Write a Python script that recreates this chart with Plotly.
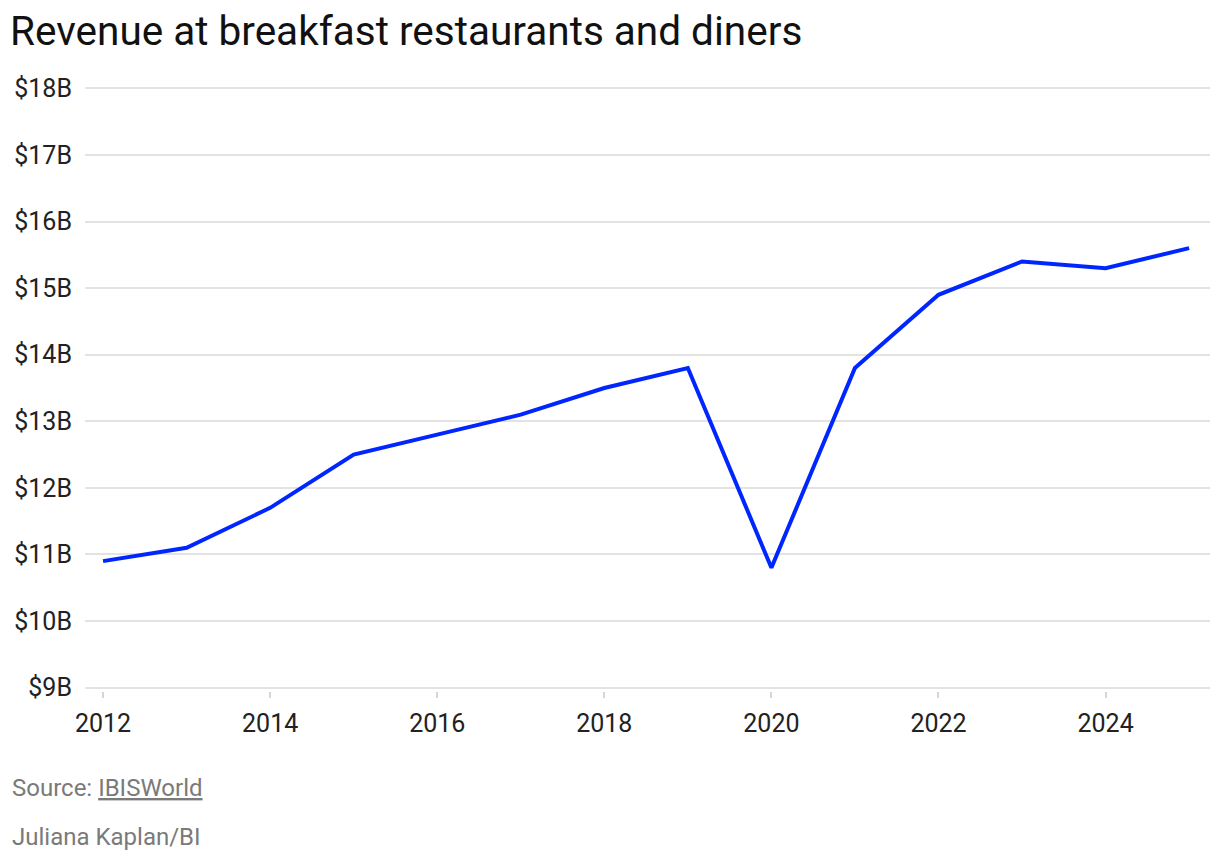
import plotly.graph_objects as go

years = [2012, 2013, 2014, 2015, 2016, 2017, 2018, 2019, 2020, 2021, 2022, 2023, 2024, 2025]
revenue_b = [10.9, 11.1, 11.7, 12.5, 12.8, 13.1, 13.5, 13.8, 10.8, 13.8, 14.9, 15.4, 15.3, 15.6]
y_ticks = [9, 10, 11, 12, 13, 14, 15, 16, 17, 18]
y_tick_labels = ["$%dB" % v for v in y_ticks]
x_ticks = [2012, 2014, 2016, 2018, 2020, 2022, 2024]

FONT = "Roboto"
PX_PER_B = 600 / 9.0
PAD = 0.05
pad_px = PAD * PX_PER_B
plot_h = 600 + 2 * pad_px

fig = go.Figure()
fig.add_trace(go.Scatter(
    x=years, y=revenue_b, mode="lines",
    line=dict(color="#0026FF", width=4),
    hoverinfo="x+y",
))

fig.update_layout(
    width=1220, height=862,
    margin=dict(l=85, r=10, t=88 - pad_px, b=174 - pad_px),
    paper_bgcolor="white", plot_bgcolor="white",
    showlegend=False,
    font=dict(family=FONT, color="#222"),
    title=dict(
        text="Revenue at breakfast restaurants and diners",
        x=10 / 1220, xref="container", xanchor="left",
        y=1 - 31 / 862, yref="container", yanchor="middle",
        pad=dict(l=0, t=0, b=0, r=0),
        font=dict(family=FONT, size=40.5, color="#111"),
    ),
    xaxis=dict(
        range=[2011.784, 2025.25],
        tickvals=x_ticks,
        ticktext=[str(v) for v in x_ticks],
        showgrid=False, zeroline=False, showline=False,
        ticks="outside", ticklen=6, tickcolor="#d6d6d6", tickwidth=2,
        ticklabelstandoff=4,
        tickfont=dict(family=FONT, size=25, color="#222"),
    ),
    yaxis=dict(
        range=[9 - PAD, 18 + PAD],
        tickvals=y_ticks, ticktext=y_tick_labels,
        showgrid=True, gridcolor="#e3e3e3", gridwidth=2,
        zeroline=False, showline=False, ticks="",
        ticklabelstandoff=12,
        tickfont=dict(family=FONT, size=25, color="#222"),
    ),
)

fig.add_annotation(
    text="Source: <u>IBISWorld</u>",
    xref="paper", yref="paper",
    x=-75 / 1125, y=-(788 - 688 - pad_px) / plot_h,
    xanchor="left", yanchor="middle", showarrow=False,
    font=dict(family=FONT, size=24, color="#7a7a7a"),
)
fig.add_annotation(
    text="Juliana Kaplan/BI",
    xref="paper", yref="paper",
    x=-75 / 1125, y=-(837 - 688 - pad_px) / plot_h,
    xanchor="left", yanchor="middle", showarrow=False,
    font=dict(family=FONT, size=24, color="#7a7a7a"),
)

fig.write_html("out.html")
